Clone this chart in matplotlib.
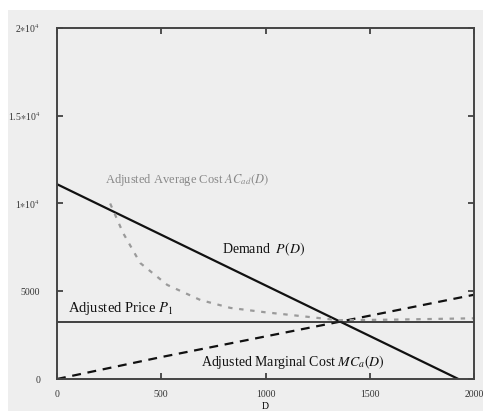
import matplotlib
matplotlib.use("Agg")
import matplotlib.pyplot as plt
from matplotlib.patches import Rectangle

# data
demand_D = [0, 1925]
demand_P = [11100, 0]

mc_D = [0, 500, 1350, 2000]
mc_P = [0, 1250, 3250, 4800]

ac_D = [255, 317, 399, 529, 688, 832, 1000, 1120, 1350, 1600, 1800, 2000]
ac_P = [10000, 8320, 6610, 5360, 4500, 4050, 3800, 3650, 3350, 3380, 3420, 3460]

price_P1 = 3250

xticks = [0, 500, 1000, 1500, 2000]
xtick_labels = ["0", "500", "1000", "1500", "2000"]
yticks = [0, 5000, 10000, 15000, 20000]
ytick_labels = ["0", "5000", r"1$\ast$10$^4$", r"1.5$\ast$10$^4$", r"2$\ast$10$^4$"]

plt.rcParams["font.family"] = ["Liberation Serif", "DejaVu Serif"]
plt.rcParams["mathtext.fontset"] = "stix"

bg = "#eeeeee"
fig = plt.figure(figsize=(4.83, 4.11), dpi=100, facecolor=bg)
# white scan border top/left
fig.patches.append(Rectangle((0, 1 - 10 / 411), 1, 10 / 411, transform=fig.transFigure,
                             facecolor="white", edgecolor="none", zorder=-1))
fig.patches.append(Rectangle((0, 0), 8 / 483, 1, transform=fig.transFigure,
                             facecolor="white", edgecolor="none", zorder=-1))

ax = fig.add_axes([57 / 483, 1 - 379 / 411, (474 - 57) / 483, (379 - 28) / 411])
ax.set_facecolor(bg)

ax.plot(demand_D, demand_P, color="#111111", lw=1.6)
ax.plot(mc_D, mc_P, color="#111111", lw=1.6, dashes=(4, 3))
ax.plot(ac_D, ac_P, color="#9a9a9a", lw=1.6, dashes=(2, 3))
ax.axhline(price_P1, color="#222222", lw=1.2)

ax.set_xlim(0, 2000)
ax.set_ylim(0, 20000)
ax.set_xticks(xticks)
ax.set_xticklabels(xtick_labels, fontsize=7)
ax.set_yticks(yticks)
ax.set_yticklabels(ytick_labels, fontsize=7)
ax.tick_params(direction="in", length=4, width=1.2, top=True, right=True, pad=8,
               colors="#333333")
ax.tick_params(axis="y", pad=12)
for s in ax.spines.values():
    s.set_linewidth(1.4)
    s.set_color("#444444")

ax.set_xlabel("D", fontsize=7, labelpad=2)

ax.text(230, 11150, r"Adjusted Average Cost $AC_{ad}(D)$", fontsize=9, color="#888888")
ax.text(790, 7150, r"Demand  $P(D)$", fontsize=10, color="#111111")
ax.text(55, 3800, r"Adjusted Price $P_1$", fontsize=10.5, color="#111111")
ax.text(690, 750, r"Adjusted Marginal Cost $MC_a(D)$", fontsize=10, color="#111111")

fig.savefig("out.png", dpi=100, facecolor=bg)
